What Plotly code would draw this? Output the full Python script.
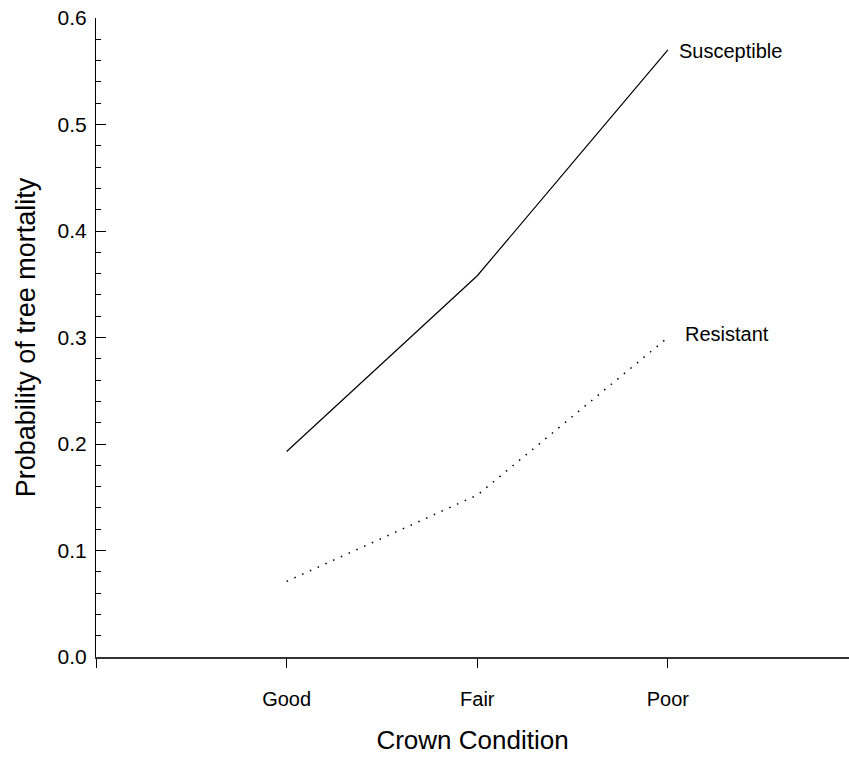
import plotly.graph_objects as go

conditions = ["Good", "Fair", "Poor"]
condition_pos = [1, 2, 3]
susceptible = [0.193, 0.358, 0.570]
resistant = [0.071, 0.152, 0.300]
y_ticks = [0.0, 0.1, 0.2, 0.3, 0.4, 0.5, 0.6]
y_ticktext = ["0.0", "0.1", "0.2", "0.3", "0.4", "0.5", "0.6"]

FONT = "Liberation Sans, Arial, sans-serif"

fig = go.Figure()
fig.add_trace(go.Scatter(x=condition_pos, y=susceptible, mode="lines",
                         line=dict(color="black", width=1.2), name="Susceptible",
                         showlegend=False))
fig.add_trace(go.Scatter(x=condition_pos, y=resistant, mode="lines",
                         line=dict(color="black", width=1.5, dash="1.5px,7px"),
                         name="Resistant", showlegend=False))

fig.add_annotation(x=condition_pos[-1], y=susceptible[-1], text="Susceptible",
                   showarrow=False, xanchor="left", yanchor="middle", xshift=9, yshift=-1,
                   font=dict(family=FONT, size=20, color="black"))
fig.add_annotation(x=condition_pos[-1], y=resistant[-1], text="Resistant",
                   showarrow=False, xanchor="left", yanchor="middle", xshift=15, yshift=4,
                   font=dict(family=FONT, size=20, color="black"))

fig.update_layout(
    width=849, height=765,
    margin=dict(l=96, r=0, t=18, b=108),
    paper_bgcolor="white", plot_bgcolor="white",
    font=dict(family=FONT, color="black"),
    xaxis=dict(
        range=[0, 3.95],
        tickvals=[0] + condition_pos, ticktext=[""] + conditions,
        ticks="outside", ticklen=9, tickcolor="black", tickwidth=1,
        showline=True, linecolor="#333", linewidth=1.5,
        showgrid=False, zeroline=False,
        tickfont=dict(family=FONT, size=20, color="black"),
        ticklabelstandoff=14,
        title=dict(text="Crown Condition", font=dict(family=FONT, size=26, color="black"),
                   standoff=22),
    ),
    yaxis=dict(
        range=[0, 0.6],
        tickvals=y_ticks, ticktext=y_ticktext,
        ticks="inside", ticklen=10, tickcolor="black", tickwidth=1,
        minor=dict(dtick=0.02, ticks="inside", ticklen=5, tickcolor="black", tickwidth=1),
        showline=True, linecolor="black", linewidth=1,
        showgrid=False, zeroline=False,
        tickfont=dict(family=FONT, size=21, color="black"),
        ticklabelstandoff=4,
        title=dict(text="Probability of tree mortality",
                   font=dict(family=FONT, size=27, color="black"), standoff=14),
    ),
)

fig.write_html("out.html")
